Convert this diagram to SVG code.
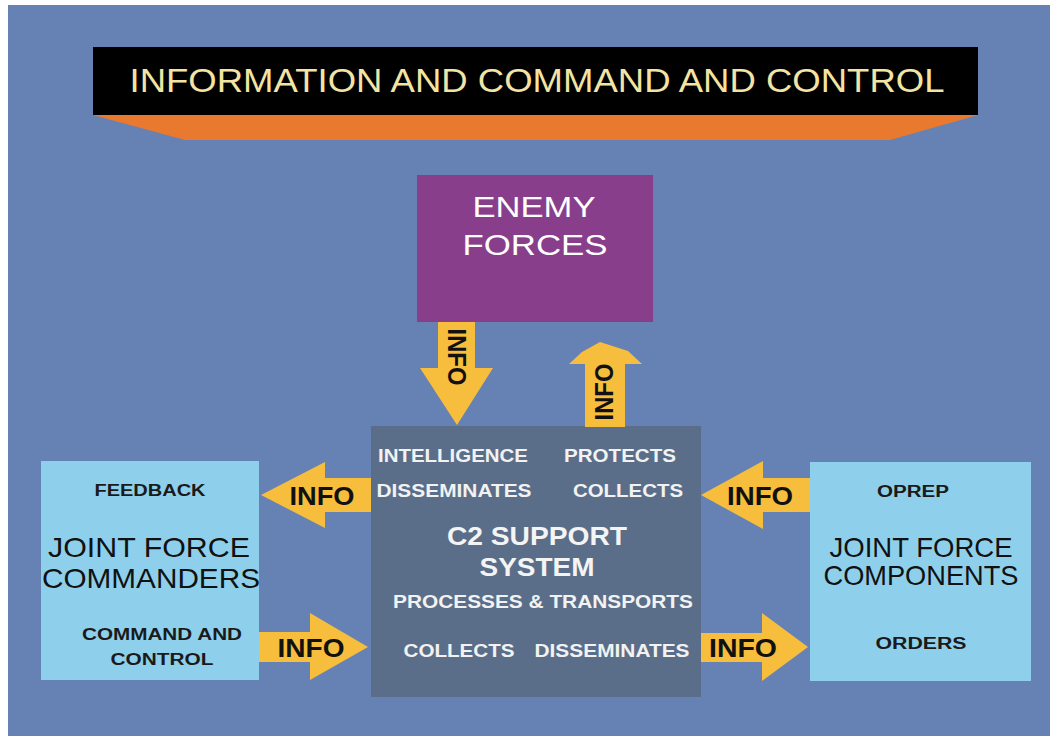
<svg xmlns="http://www.w3.org/2000/svg" width="1050" height="736" viewBox="0 0 1050 736">
<style>
  text { font-family: "Liberation Sans", Arial, sans-serif; }
  .arrow { fill: #F6BE3C; }
  .info { fill: #111; font-size: 25px; font-weight: bold; text-anchor: middle; }
  .wl { fill: #F2F2F2; font-size: 18px; font-weight: bold; text-anchor: middle; }
  .bl { fill: #1A1A1A; font-size: 16px; font-weight: bold; text-anchor: middle; }
  .big { fill: #111; font-size: 28px; text-anchor: middle; }
</style>
<rect x="0" y="0" width="1050" height="736" fill="#FFFFFF"/>
<rect x="8" y="5" width="1042" height="731" fill="#6682B5"/>

<g id="title">
  <polygon points="93,115 978,115 890,140 185,140" fill="#E8792E"/>
  <rect x="93" y="47" width="885" height="68" fill="#000000"/>
  <text x="537" y="92" font-size="33" fill="#F3E4A4" text-anchor="middle" textLength="815" lengthAdjust="spacingAndGlyphs">INFORMATION AND COMMAND AND CONTROL</text>
</g>

<g id="enemy-forces">
  <rect x="417" y="175" width="236" height="147" fill="#883E8B"/>
  <text x="534" y="217" font-size="29" fill="#FFFFFF" text-anchor="middle" textLength="123" lengthAdjust="spacingAndGlyphs">ENEMY</text>
  <text x="535" y="255" font-size="29" fill="#FFFFFF" text-anchor="middle" textLength="145" lengthAdjust="spacingAndGlyphs">FORCES</text>
</g>

<g id="c2-support-system">
  <rect x="371" y="426" width="330" height="271" fill="#5A6E89"/>
  <text class="wl" x="453" y="462" textLength="150" lengthAdjust="spacingAndGlyphs">INTELLIGENCE</text>
  <text class="wl" x="620" y="462" textLength="112" lengthAdjust="spacingAndGlyphs">PROTECTS</text>
  <text class="wl" x="454" y="497" textLength="155" lengthAdjust="spacingAndGlyphs">DISSEMINATES</text>
  <text class="wl" x="628" y="497" textLength="110" lengthAdjust="spacingAndGlyphs">COLLECTS</text>
  <text x="537" y="545" font-size="25" font-weight="bold" fill="#F4F4F4" text-anchor="middle" textLength="180" lengthAdjust="spacingAndGlyphs">C2 SUPPORT</text>
  <text x="537" y="576" font-size="25" font-weight="bold" fill="#F4F4F4" text-anchor="middle" textLength="115" lengthAdjust="spacingAndGlyphs">SYSTEM</text>
  <text class="wl" x="543" y="608" textLength="300" lengthAdjust="spacingAndGlyphs">PROCESSES &amp; TRANSPORTS</text>
  <text class="wl" x="459" y="657" textLength="111" lengthAdjust="spacingAndGlyphs">COLLECTS</text>
  <text class="wl" x="612" y="657" textLength="155" lengthAdjust="spacingAndGlyphs">DISSEMINATES</text>
</g>

<g id="joint-force-commanders">
  <rect x="41" y="461" width="218" height="219" fill="#8ED0EC"/>
  <text class="bl" x="150" y="496" textLength="111" lengthAdjust="spacingAndGlyphs">FEEDBACK</text>
  <text class="big" x="149" y="557" textLength="202" lengthAdjust="spacingAndGlyphs">JOINT FORCE</text>
  <text class="big" x="151" y="588" textLength="218" lengthAdjust="spacingAndGlyphs">COMMANDERS</text>
  <text class="bl" x="162" y="640" textLength="160" lengthAdjust="spacingAndGlyphs">COMMAND AND</text>
  <text class="bl" x="162" y="665" textLength="103" lengthAdjust="spacingAndGlyphs">CONTROL</text>
</g>

<g id="joint-force-components">
  <rect x="810" y="462" width="221" height="219" fill="#8ED0EC"/>
  <text class="bl" x="913" y="497" textLength="72" lengthAdjust="spacingAndGlyphs">OPREP</text>
  <text class="big" x="921" y="557" textLength="183" lengthAdjust="spacingAndGlyphs">JOINT FORCE</text>
  <text class="big" x="921" y="585" textLength="195" lengthAdjust="spacingAndGlyphs">COMPONENTS</text>
  <text class="bl" x="921" y="649" textLength="91" lengthAdjust="spacingAndGlyphs">ORDERS</text>
</g>

<g id="connectors">
  <g id="enemy-to-c2">
    <path class="arrow" d="M438,322 L475,322 L475,368 L493,368 L457,425 L420,368 L438,368 Z"/>
    <text class="info" transform="translate(457,357) rotate(90)" y="9" textLength="57" lengthAdjust="spacingAndGlyphs">INFO</text>
  </g>
  <g id="c2-to-enemy">
    <path class="arrow" d="M585,427 L585,364 L569,364 L582,352 L600,342 L628,351 L642,364 L625,364 L625,427 Z"/>
    <text class="info" transform="translate(605,392) rotate(-90)" y="8" font-size="23" textLength="57" lengthAdjust="spacingAndGlyphs">INFO</text>
  </g>
  <g id="c2-to-commanders">
    <path class="arrow" d="M371,478 L325,478 L325,462 L261,495 L325,528 L325,512 L371,512 Z"/>
    <text class="info" x="322" y="505" textLength="65" lengthAdjust="spacingAndGlyphs">INFO</text>
  </g>
  <g id="commanders-to-c2">
    <path class="arrow" d="M259,632 L310,632 L310,613 L368,647 L310,680 L310,662 L259,662 Z"/>
    <text class="info" x="311" y="657" textLength="67" lengthAdjust="spacingAndGlyphs">INFO</text>
  </g>
  <g id="components-to-c2">
    <path class="arrow" d="M810,478 L763,478 L763,461 L701,495 L763,529 L763,512 L810,512 Z"/>
    <text class="info" x="760" y="505" textLength="66" lengthAdjust="spacingAndGlyphs">INFO</text>
  </g>
  <g id="c2-to-components">
    <path class="arrow" d="M701,633 L762,633 L762,613 L808,647 L762,681 L762,662 L701,662 Z"/>
    <text class="info" x="743" y="657" textLength="68" lengthAdjust="spacingAndGlyphs">INFO</text>
  </g>
</g>
</svg>
